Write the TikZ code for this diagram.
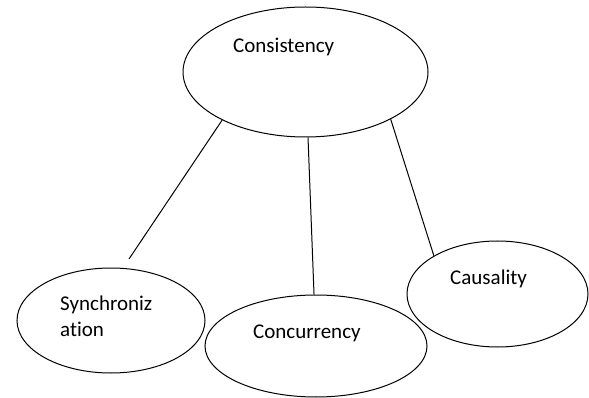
\documentclass[tikz,border=0pt]{standalone}
\usepackage{fontspec}
\setmainfont{Carlito}[Ligatures=NoCommon]
\usetikzlibrary{shapes.geometric}
\begin{document}
\begin{tikzpicture}[x=1pt,y=1pt]
	\tikzset{bubble/.style={draw=black, line width=1pt, ellipse, inner sep=0pt},
		word/.style={inner sep=0pt, font=\fontsize{21}{26}\selectfont}}
	\useasboundingbox (0,0) rectangle (589,-398);
	\node [bubble, minimum width=245, minimum height=130] (cons) at (305.5,-72) {};
	\node [word, anchor=base west] (consT) at (233,-53) {Consistency};
	\node [bubble, minimum width=188, minimum height=105] (sync) at (111,-320.5) {};
	\node [word, anchor=north west, align=left] (syncT) at (60,-296) {Synchroniz\\ation};
	\node [bubble, minimum width=222, minimum height=102] (conc) at (316,-346) {};
	\node [word, anchor=base west] (concT) at (253,-338) {Concurrency};
	\node [bubble, minimum width=181, minimum height=106] (caus) at (497.5,-294) {};
	\node [word, anchor=base west] (causT) at (450,-284) {Causality};
	\coordinate (syncEnd) at (129,-259);
	\draw [black, line width=1pt] (cons.-150) -- (syncEnd);
	\draw [black, line width=1pt] (cons) -- (conc);
	\draw [black, line width=1pt] (cons.-29) -- (caus.149);
\end{tikzpicture}
\end{document}
